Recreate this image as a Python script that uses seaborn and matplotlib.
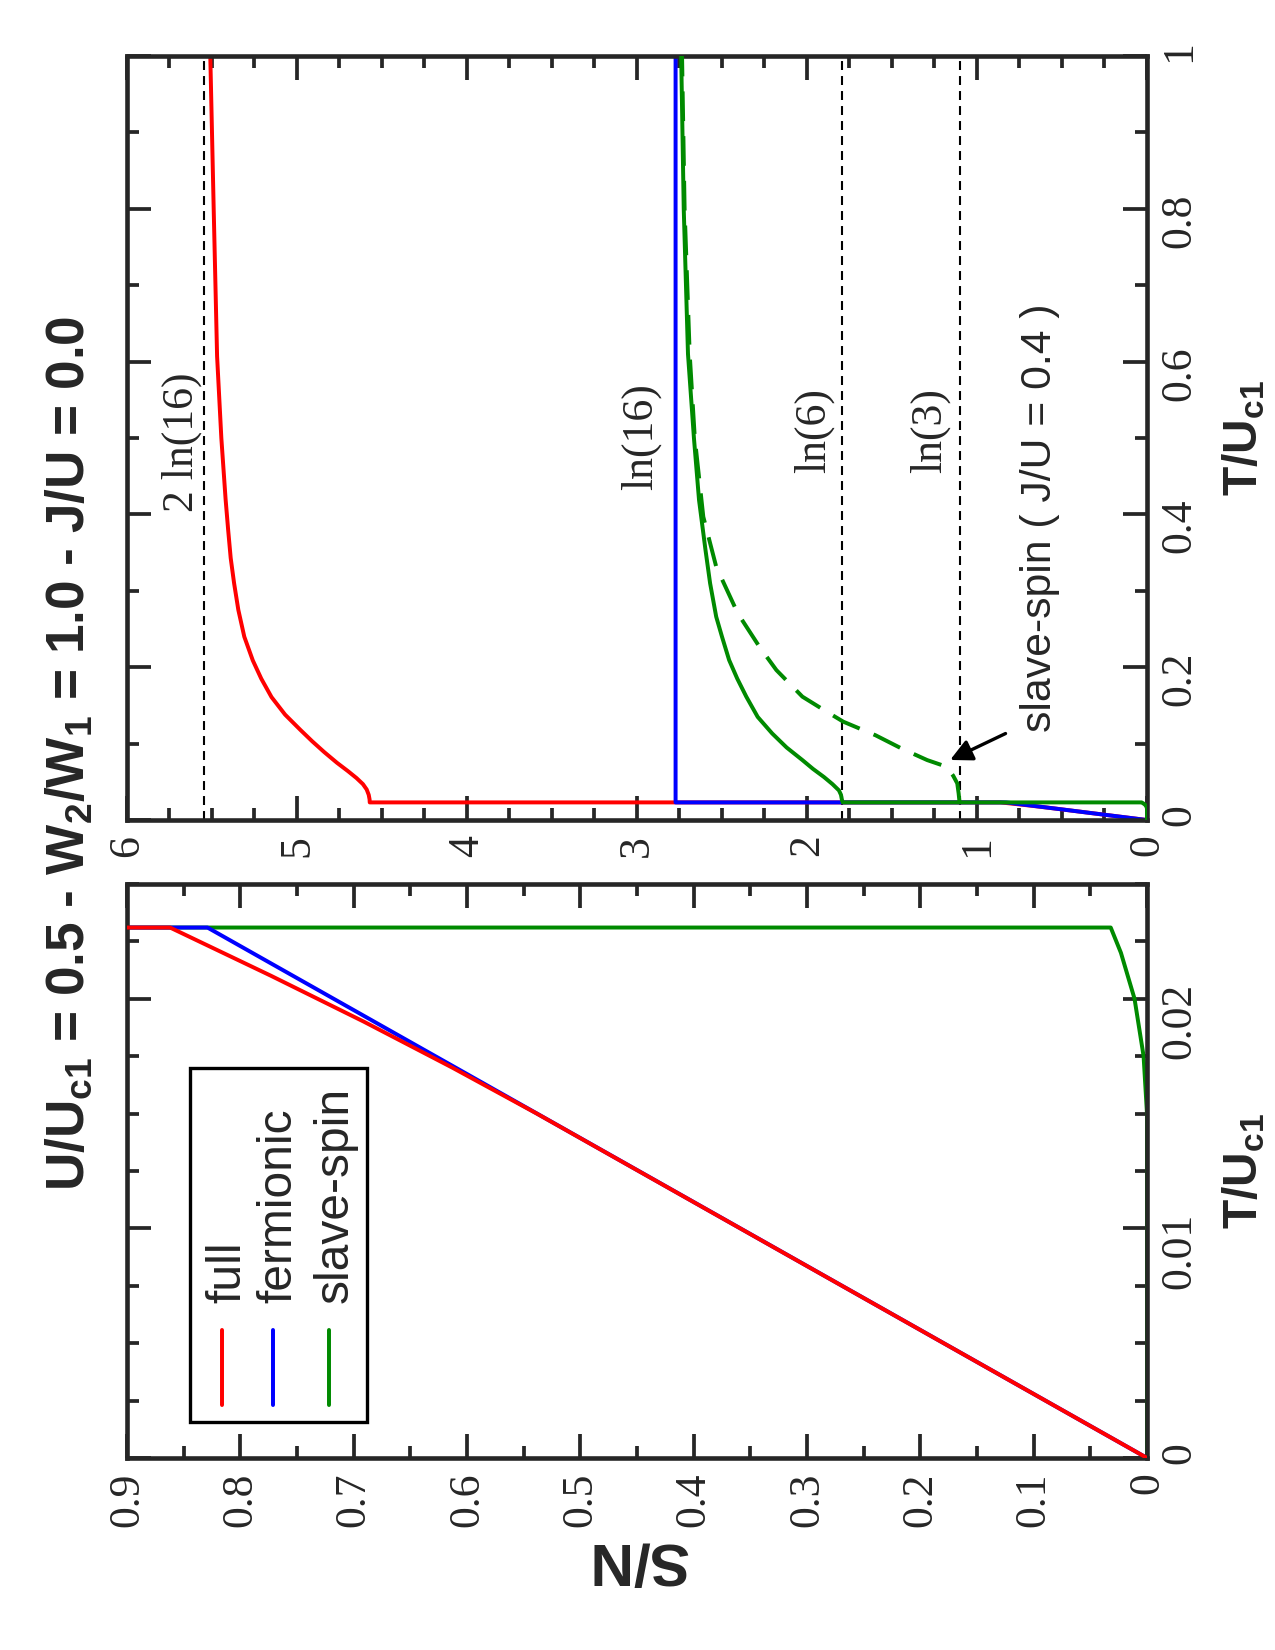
import numpy as np
import pandas as pd
import seaborn as sns
import matplotlib.pyplot as plt
from matplotlib.ticker import MultipleLocator, FuncFormatter

# entropy per site S/N against T/U_c1, page is drawn turned by 90 degrees
T_full = [0, 0.015, 0.017, 0.019, 0.021, 0.0231, 0.0231, 0.027, 0.033, 0.040, 0.047,
          0.055, 0.064, 0.075, 0.089, 0.103, 0.118, 0.138, 0.161, 0.185, 0.209, 0.24,
          0.275, 0.31, 0.343, 0.38, 0.42, 0.5, 0.607, 0.8, 1.0]
S_full = [0, 0.5385, 0.613, 0.691, 0.773, 0.862, 4.572, 4.573, 4.578, 4.59, 4.612,
          4.65, 4.70, 4.765, 4.84, 4.91, 4.98, 5.07, 5.15, 5.21, 5.26, 5.31,
          5.345, 5.37, 5.39, 5.405, 5.42, 5.445, 5.47, 5.49, 5.51]

T_ferm = [0, 0.0231, 0.0231, 1.0]
S_ferm = [0, 0.829, 2.773, 2.773]

T_ss = [0, 0.015, 0.0175, 0.020, 0.022, 0.0231, 0.0231, 0.027, 0.033, 0.0388, 0.047,
        0.0563, 0.067, 0.0785, 0.095, 0.1134, 0.135, 0.1615, 0.185, 0.2094, 0.24,
        0.2661, 0.31, 0.3534, 0.4188, 0.5, 0.61, 0.8, 1.0]
S_ss = [0, 0.0, 0.003, 0.011, 0.023, 0.032, 1.79, 1.795, 1.80, 1.812, 1.85,
        1.90, 1.965, 2.027, 2.12, 2.205, 2.29, 2.357, 2.41, 2.458, 2.50,
        2.534, 2.57, 2.597, 2.635, 2.665, 2.70, 2.725, 2.74]

# slave-spin with J/U = 0.4
T_ss4 = [0.0231, 0.024, 0.035, 0.048, 0.058, 0.0698, 0.0785, 0.0938, 0.111, 0.1288,
         0.144, 0.1615, 0.1963, 0.2269, 0.2705, 0.3316, 0.397, 0.5, 0.61, 0.8, 1.0]
S_ss4 = [1.10, 1.103, 1.108, 1.116, 1.14, 1.179, 1.293, 1.445, 1.597, 1.787,
         1.90, 2.027, 2.18, 2.28, 2.407, 2.534, 2.61, 2.66, 2.69, 2.72, 2.735]

ref_S = [2 * np.log(16), np.log(6), np.log(3)]
ref_names = ['2 ln(16)', 'ln(6)', 'ln(3)']
ref_text_S = [5.68, 1.96, 1.277]
ref_text_T = [0.403, 0.454, 0.454]
ln16_S, ln16_T = 2.98, 0.432

names = ['full', 'fermionic', 'slave-spin']
colors = ['#ff0000', '#0000ff', '#008a00']

sns.set_style("ticks")
plt.rcParams['font.family'] = ['Liberation Serif', 'DejaVu Serif']
plt.rcParams['mathtext.fontset'] = 'custom'
plt.rcParams['mathtext.rm'] = 'Liberation Sans'
plt.rcParams['mathtext.bf'] = 'Liberation Sans:bold'

fig = plt.figure(figsize=(8.5, 11), dpi=150)
ax_top = fig.add_axes([0.0996, 0.503, 0.8, 0.463])
ax_bot = fig.add_axes([0.0996, 0.1164, 0.8, 0.3479])

fmt = FuncFormatter(lambda v, p: '%g' % round(v, 6))
LW = 1.9


def draw(ax, order):
    series = [(S_full, T_full), (S_ferm, T_ferm), (S_ss, T_ss)]
    for i, (s, t) in enumerate(series):
        sns.lineplot(x=s, y=t, sort=False, estimator=None, color=colors[i],
                     lw=LW, ax=ax, zorder=order[i])
    sns.lineplot(x=S_ss4, y=T_ss4, sort=False, estimator=None, color=colors[2],
                 lw=LW, linestyle=(0, (7.5, 3.8)), ax=ax, zorder=order[2])


def style(ax, xmaj, xmin, ymaj, ymin):
    ax.xaxis.set_major_locator(MultipleLocator(xmaj))
    ax.xaxis.set_minor_locator(MultipleLocator(xmin))
    ax.yaxis.set_major_locator(MultipleLocator(ymaj))
    ax.yaxis.set_minor_locator(MultipleLocator(ymin))
    ax.xaxis.set_major_formatter(fmt)
    ax.yaxis.set_major_formatter(fmt)
    ax.tick_params(which='both', direction='in', top=True, bottom=True, left=True,
                   right=True, labelleft=False, labelright=True, labelbottom=True,
                   labeltop=False, width=1.8, labelsize=21, labelrotation=90)
    ax.tick_params(which='major', length=11.5)
    ax.tick_params(which='minor', length=5.8)
    ax.tick_params(axis='x', pad=7)
    ax.tick_params(axis='y', pad=6)
    for sp in ax.spines.values():
        sp.set_linewidth(2.2)
        sp.set_visible(True)
    ax.yaxis.set_label_position('right')
    ax.set_ylabel(r'$\mathbf{T/U_{c1}}$', fontsize=23, rotation=90, labelpad=10)


# top panel (T up to 1)
draw(ax_top, [1, 2, 3])
for s in ref_S:
    ax_top.axvline(s, color='k', lw=1.0, linestyle=(0, (4.3, 2.9)), zorder=0.5)
for s, t, lab in zip(ref_text_S, ref_text_T, ref_names):
    ax_top.text(s, t, lab, rotation=90, ha='center', va='bottom', fontsize=21)
ax_top.text(ln16_S, ln16_T, 'ln(16)', rotation=90, ha='center', va='bottom', fontsize=21)
ax_top.text(0.63, 0.1156, 'slave-spin ( J/U = 0.4 )', rotation=90, ha='center',
            va='bottom', fontsize=20.5, family='Liberation Sans')
ax_top.annotate('', xy=(1.18, 0.0763), xytext=(0.81, 0.1156),
                arrowprops=dict(arrowstyle='-|>', color='k', lw=1.6, mutation_scale=22))
ax_top.set_xlim(6, 0)
ax_top.set_ylim(0, 1)
style(ax_top, 1, 0.25, 0.2, 0.1)
ax_top.set_xlabel('')

# bottom panel (low temperature zoom)
draw(ax_bot, [3, 2, 1])
ax_bot.set_xlim(0.9, 0)
ax_bot.set_ylim(0, 0.025)
style(ax_bot, 0.1, 0.05, 0.01, 0.0025)
ax_bot.set_xlabel('S/N', rotation=180, fontsize=29, fontweight='bold',
                  family='Liberation Sans', labelpad=2)

# legend, turned like the rest of the page
ax_bot.add_patch(plt.Rectangle((0.0618, 0.0627), 0.1735, 0.6163, transform=ax_bot.transAxes,
                               fill=False, lw=1.6, ec='k', zorder=5))
line_x = [0.0931, 0.1431, 0.198]
for x, name, c in zip(line_x, names, colors):
    ax_bot.plot([x, x], [0.0923, 0.223], color=c, lw=LW, transform=ax_bot.transAxes, zorder=6)
    ax_bot.text(x + 0.006, 0.27, name, rotation=90, ha='center', va='bottom', fontsize=23,
                family='Liberation Sans', transform=ax_bot.transAxes)

fig.text(0.055, 0.5436,
         r'U/U$_{\mathbf{c1}}$ = 0.5 - W$_{\mathbf{2}}$/W$_{\mathbf{1}}$ = 1.0 - J/U = 0.0',
         rotation=90, ha='center', va='center', fontsize=25.5, fontweight='bold',
         family='Liberation Sans')

fig.savefig('out.png', dpi=150)
